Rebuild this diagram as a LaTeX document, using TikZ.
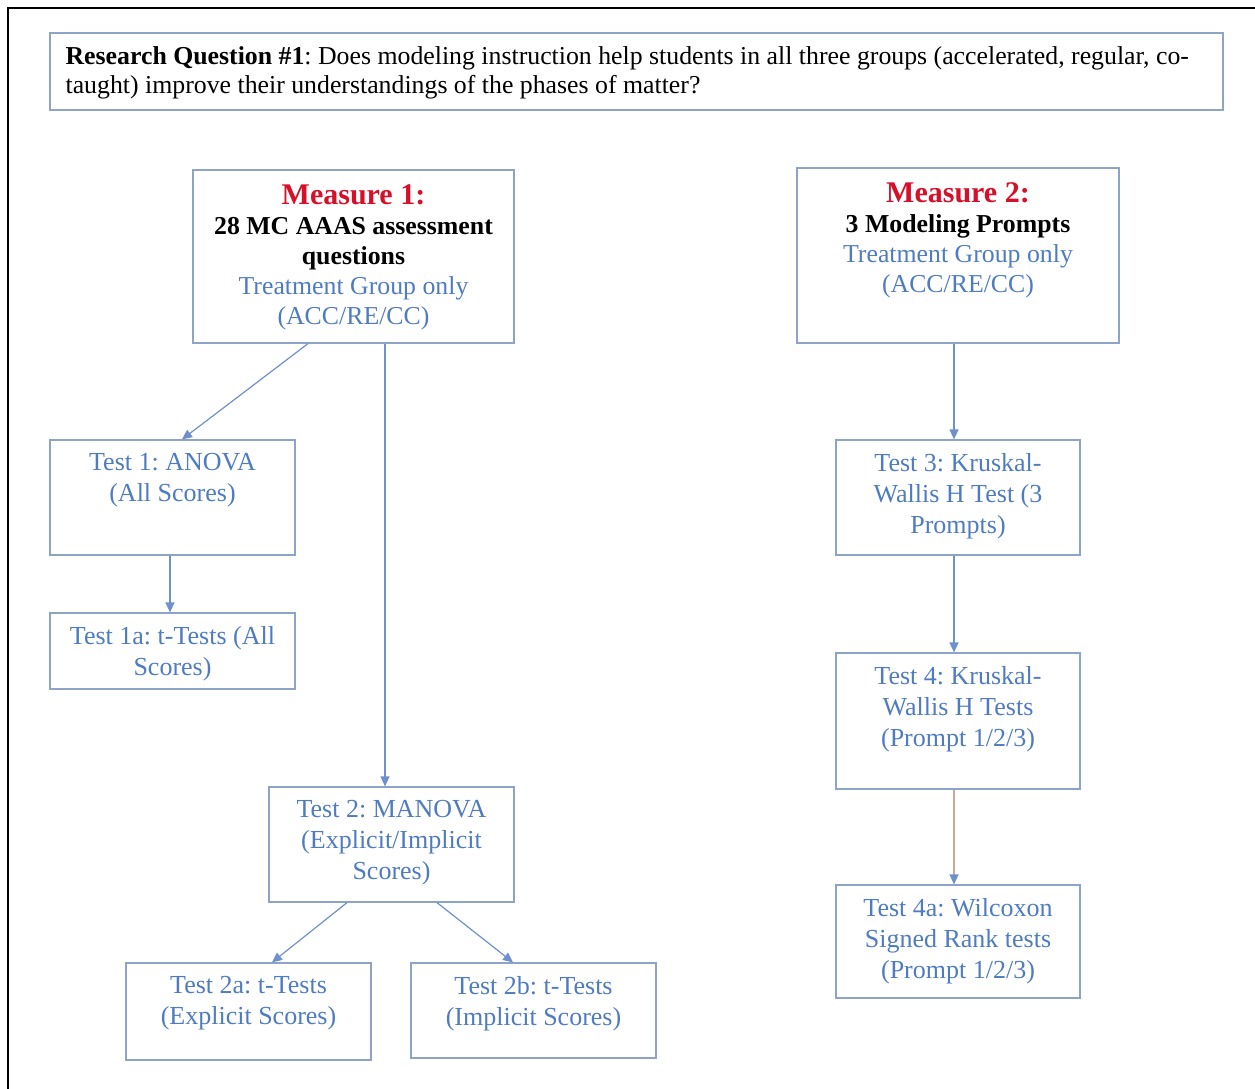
\documentclass[tikz,border=0pt]{standalone}
\usepackage{fontspec}
\setmainfont{Liberation Serif}
\usetikzlibrary{arrows.meta}
\definecolor{boxc}{HTML}{8EA3C8}
\definecolor{txtb}{HTML}{4F7CC0}
\definecolor{arrc}{HTML}{7090CC}
\definecolor{redc}{HTML}{D7102A}
\definecolor{tanc}{HTML}{C9A99A}
\frenchspacing
\begin{document}
\begin{tikzpicture}[x=1pt,y=-1pt,
  box/.style={draw=boxc, line width=1.2pt, inner sep=0pt, fill=white},
  lbl/.style={align=center, inner sep=0pt, anchor=north, text=txtb, font=\fontsize{26}{31}\selectfont},
  mlbl/.style={align=center, inner sep=0pt, anchor=north, font=\fontsize{25.8}{30}\selectfont},
  conn/.style={draw=arrc, line width=1.2pt, -{Triangle[length=10pt,width=9pt]}},
  tconn/.style={draw=tanc, line width=1.2pt, -{Triangle[length=10pt,width=9pt,color=arrc]}}]
\useasboundingbox (0,0) rectangle (1255,1089);
\fill[white] (0,0) rectangle (1255,1089);
\coordinate (fa) at (8,1089);
\coordinate (fb) at (8,8);
\coordinate (fc) at (1256,8);
\draw[line width=2.5pt] (fa) -- (fb) -- (fc);

% boxes
\node[box, minimum width=1173, minimum height=77] (q) at (636.5,71.5) {};
\node[box, minimum width=321, minimum height=173] (m1) at (353.5,256.5) {};
\node[box, minimum width=322, minimum height=175] (m2) at (958,255.5) {};
\node[box, minimum width=245, minimum height=115] (t1) at (172.5,497.5) {};
\node[box, minimum width=245, minimum height=76] (t1a) at (172.5,651) {};
\node[box, minimum width=245, minimum height=115] (t2) at (391.5,844.5) {};
\node[box, minimum width=245, minimum height=97] (t2a) at (248.5,1011.5) {};
\node[box, minimum width=245, minimum height=95] (t2b) at (533.5,1010.5) {};
\node[box, minimum width=244, minimum height=115] (t3) at (958,497.5) {};
\node[box, minimum width=244, minimum height=136] (t4) at (958,721) {};
\node[box, minimum width=244, minimum height=113] (t4a) at (958,941.5) {};

% texts
\node[anchor=north west, align=left, inner sep=0pt, font=\fontsize{25.8}{29}\selectfont] (qt) at ([xshift=16pt,yshift=-14pt]q.north west)
  {\textbf{Research Question \#1}: Does modeling instruction help students in all three groups (accelerated, regular, co-\\taught) improve their understandings of the phases of matter?};

\node[mlbl] (m1t) at ([yshift=-15pt]m1.north)
  {\textcolor{redc}{\fontsize{30}{30}\selectfont\bfseries Measure 1:}\\
   \textbf{28 MC AAAS assessment}\\
   \textbf{questions}\\
   \textcolor{txtb}{Treatment Group only}\\
   \textcolor{txtb}{(ACC/RE/CC)}};
\node[mlbl] (m2t) at ([yshift=-15pt]m2.north)
  {\textcolor{redc}{\fontsize{30}{30}\selectfont\bfseries Measure 2:}\\
   \textbf{3 Modeling Prompts}\\
   \textcolor{txtb}{Treatment Group only}\\
   \textcolor{txtb}{(ACC/RE/CC)}};

\node[lbl] (t1t) at ([yshift=-14pt]t1.north) {Test 1: ANOVA\\(All Scores)};
\node[lbl] (t1at) at ([yshift=-14pt]t1a.north) {Test 1a: t-Tests (All\\Scores)};
\node[lbl] (t2t) at ([yshift=-14pt]t2.north) {Test 2: MANOVA\\(Explicit/Implicit\\Scores)};
\node[lbl] (t2at) at ([yshift=-14pt]t2a.north) {Test 2a: t-Tests\\(Explicit Scores)};
\node[lbl] (t2bt) at ([yshift=-14pt]t2b.north) {Test 2b: t-Tests\\(Implicit Scores)};
\node[lbl] (t3t) at ([yshift=-14pt]t3.north) {Test 3: Kruskal-\\Wallis H Test (3\\Prompts)};
\node[lbl] (t4t) at ([yshift=-14pt]t4.north) {Test 4: Kruskal-\\Wallis H Tests\\(Prompt 1/2/3)};
\node[lbl] (t4at) at ([yshift=-14pt]t4a.north) {Test 4a: Wilcoxon\\Signed Rank tests\\(Prompt 1/2/3)};

% connectors
\draw[conn] ([xshift=-45.5pt]m1.south) -- ([xshift=9.5pt]t1.north);
\draw[conn] ([xshift=31.5pt]m1.south) -- ([xshift=-6.5pt]t2.north);
\draw[conn] ([xshift=-2.5pt]t1.south) -- ([xshift=-2.5pt]t1a.north);
\draw[conn] ([xshift=-44.5pt]t2.south) -- ([xshift=23.5pt]t2a.north);
\draw[conn] ([xshift=45.5pt]t2.south) -- ([xshift=-20.5pt]t2b.north);
\draw[conn] ([xshift=-4pt]m2.south) -- ([xshift=-4pt]t3.north);
\draw[conn] ([xshift=-4pt]t3.south) -- ([xshift=-4pt]t4.north);
\draw[tconn] ([xshift=-4pt]t4.south) -- ([xshift=-4pt]t4a.north);
\end{tikzpicture}
\end{document}
